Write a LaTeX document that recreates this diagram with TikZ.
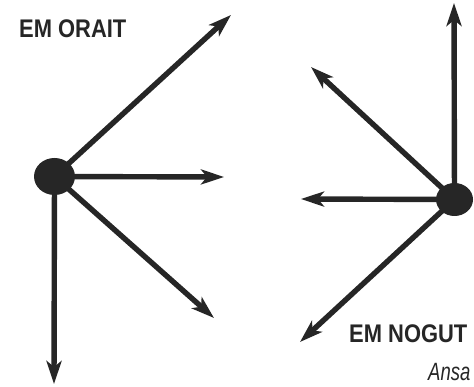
\documentclass[tikz,border=0pt]{standalone}
\usepackage{fontspec}
\usepackage{tikz}
\usetikzlibrary{arrows.meta}
\usetikzlibrary{shapes.geometric}
\newfontfamily\diagfont[FakeStretch=0.86]{Liberation Sans}
\newfontfamily\notefont[FakeStretch=0.74]{Liberation Sans}
\definecolor{inkgray}{RGB}{38,38,38}
\tikzset{
    dotnode/.style={
        ellipse,
        fill=inkgray,
        inner sep=0pt,
        minimum width=41pt,
        minimum height=37pt
    },
    % thick arrows leaving the dots
    inkarrow/.style={
        line width=5.4pt,
        inkgray,
        -{Stealth[length=23pt, width=15pt, inset=6pt]}
    },
    emlabel/.style={
        inner sep=0pt,
        anchor=base west,
        text=inkgray,
        font=\diagfont\bfseries\fontsize{25.5}{29}\selectfont
    }
}

\begin{document}
\begin{tikzpicture}[x=1pt, y=-1pt]
	\useasboundingbox (0,0) rectangle (474,387);

	\coordinate (orait-ne) at (231,15);
	\coordinate (orait-e) at (224,177);
	\coordinate (orait-se) at (214,318);
	\coordinate (orait-s) at (54,384);

	\coordinate (nogut-n) at (454,3);
	\coordinate (nogut-nw) at (311,67);
	\coordinate (nogut-w) at (301,199);
	\coordinate (nogut-sw) at (300,342);

	\node [dotnode] (orait) at (54.5,176.5) {};
	\node [dotnode, minimum width=37pt, minimum height=33pt] (nogut) at (454.5,199.5) {};

	\draw[inkarrow] (orait.center) -- (orait-ne);
	\draw[inkarrow] (orait.center) -- (orait-e);
	\draw[inkarrow] (orait.center) -- (orait-se);
	\draw[inkarrow] (orait.center) -- (orait-s);

	\draw[inkarrow] (nogut.center) -- (nogut-n);
	\draw[inkarrow] (nogut.center) -- (nogut-nw);
	\draw[inkarrow] (nogut.center) -- (nogut-w);
	\draw[inkarrow] (nogut.center) -- (nogut-sw);

	\node [emlabel] (orait-label) at (19,38) {EM ORAIT};
	\node [emlabel] (nogut-label) at (349,342) {EM NOGUT};
	\node [emlabel, font=\notefont\itshape\fontsize{25}{28}\selectfont] (ansa-label) at (428,381) {Ansa};
\end{tikzpicture}
\end{document}
